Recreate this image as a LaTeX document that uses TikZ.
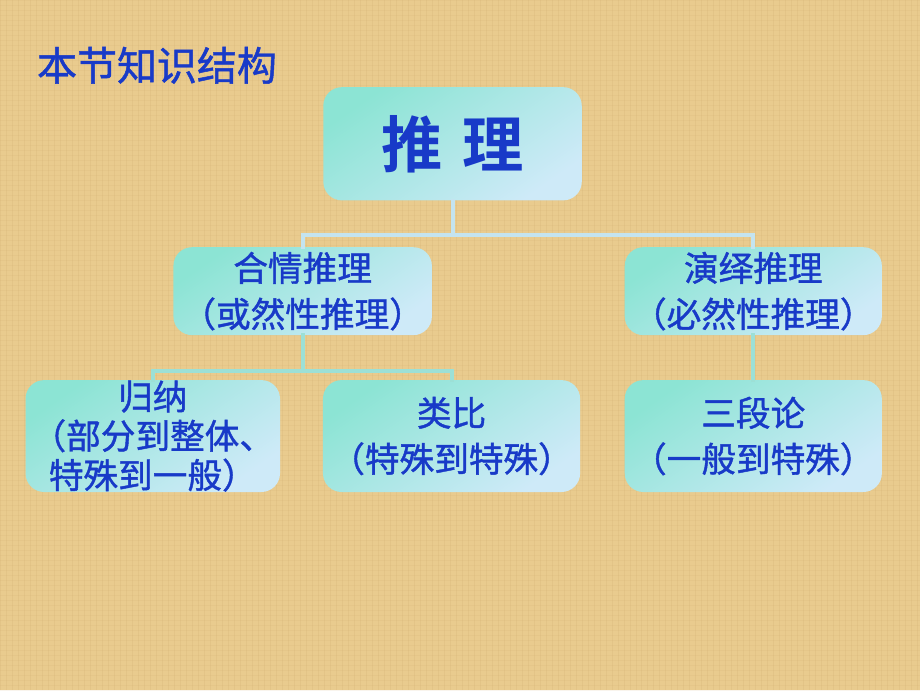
\documentclass[tikz,border=0pt]{standalone}
\usepackage{fontspec}
\newfontfamily\cjk{Noto Sans CJK SC}[FakeBold=1.2, BoldFont={Noto Sans CJK SC Bold}, BoldFeatures={FakeBold=0}]
\usetikzlibrary{positioning}
\definecolor{paper}{RGB}{233,203,142}
\definecolor{paperdark}{RGB}{205,168,105}
\definecolor{boxteal}{RGB}{140,228,212}
\definecolor{boxblue}{RGB}{206,234,248}
\definecolor{inkblue}{RGB}{24,58,200}
\definecolor{wireblue}{RGB}{196,228,240}
\definecolor{wireteal}{RGB}{156,224,214}

\tikzset{
  topicbox/.style={rounded corners=14pt, top color=boxteal, bottom color=boxblue,
    shading angle=35, text=inkblue, align=center, inner sep=0pt,
    font=\cjk\fontsize{26}{34.5}\selectfont},
  wire/.style={line width=3pt, line cap=rect}
}

\begin{document}
\begin{tikzpicture}[x=0.75pt, y=-0.75pt]
                % background
                \fill[paper] (0,0) rectangle (920,690);
                \foreach \x in {0,6,...,920}
                  \draw[paperdark, opacity=0.18, line width=0.6pt] (\x,0) -- (\x,690);
                \foreach \y in {0,5,...,690}
                  \draw[paperdark, opacity=0.12, line width=0.5pt] (0,\y) -- (920,\y);
                \useasboundingbox (0,0) rectangle (920,690);

                \node[anchor=west, text=inkblue, font=\cjk\fontsize{30}{32}\selectfont] (title) at (32,65) {本节知识结构};

                % boxes
                \node[topicbox, minimum width=194pt, minimum height=85pt,
                  font=\cjk\bfseries\fontsize{46}{48}\selectfont] (root) at (452.5,143.5) {推\,\,理};
                \node[topicbox, minimum width=194pt, minimum height=66pt] (plaus) at (302.5,291) {合情推理\\（或然性推理）};
                \node[topicbox, minimum width=193pt, minimum height=66pt] (deduc) at (753.5,291) {演绎推理\\（必然性推理）};
                \node[topicbox, minimum width=191pt, minimum height=84pt,
                  font=\cjk\fontsize{26}{29.5}\selectfont] (induc) at (152.5,436) {归纳\\（部分到整体、\\特殊到一般）};
                \node[topicbox, minimum width=193pt, minimum height=84pt] (analog) at (451.5,436) {类比\\（特殊到特殊）};
                \node[topicbox, minimum width=193pt, minimum height=84pt] (syllog) at (753.5,436) {三段论\\（一般到特殊）};

                % connectors
                \coordinate (busA) at (452.5,235);
                \coordinate (busB) at (302.5,371);
                \draw[wire, wireblue] (root.south) -- (busA);
                \draw[wire, wireblue] (plaus.north) |- (busA) -| (deduc.north);
                \draw[wire, wireteal] (plaus.south) -- (busB);
                \draw[wire, wireteal] (induc.north) |- (busB) -| (analog.north);
                \draw[wire, wireteal] (deduc.south) -- (syllog.north);
              \end{tikzpicture}
\end{document}
